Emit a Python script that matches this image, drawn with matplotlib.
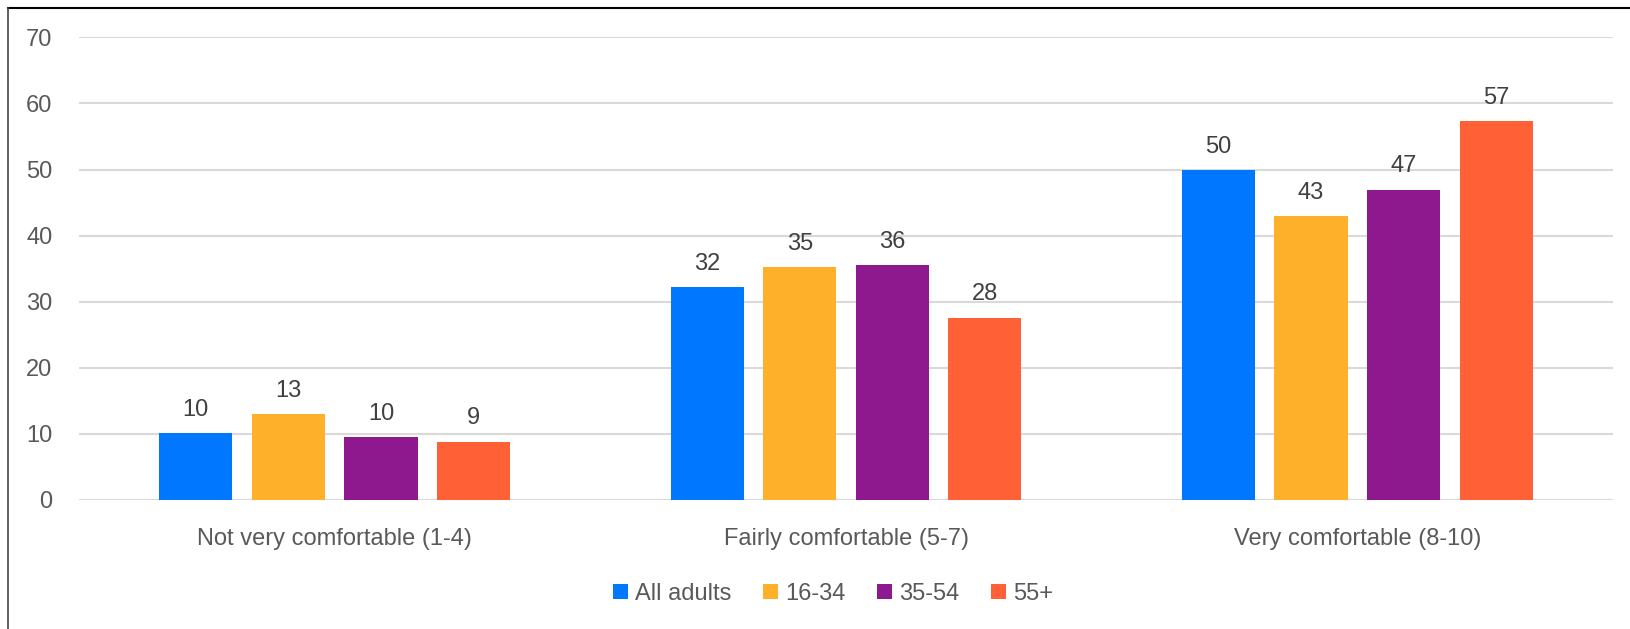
import matplotlib.pyplot as plt
import numpy as np
from matplotlib.lines import Line2D

plt.rcParams['font.family'] = ['Liberation Sans', 'DejaVu Sans']

categories = ['Not very comfortable (1-4)', 'Fairly comfortable (5-7)', 'Very comfortable (8-10)']
series = ['All adults', '16-34', '35-54', '55+']
all_adults = [10.1, 32.2, 49.9]
age_16_34 = [13.0, 35.2, 42.9]
age_35_54 = [9.5, 35.5, 46.9]
age_55_plus = [8.8, 27.6, 57.3]
colors = ['#0077ff', '#feb02b', '#8e198e', '#ff6036']

fig = plt.figure(figsize=(16.3, 6.29), dpi=100)
ax = fig.add_axes([79/1630, 1 - 500/629, (1613 - 79)/1630, (500 - 37.3)/629])

x = np.arange(len(categories))
pitch = 0.181
width = 0.143
for j, (vals, name) in enumerate(zip([all_adults, age_16_34, age_35_54, age_55_plus], series)):
    bars = ax.bar(x + (j - 1.5) * pitch, vals, width, color=colors[j], label=name, zorder=3)
    ax.bar_label(bars, labels=[f'{v:.0f}' for v in vals], padding=9,
                 fontsize=17, color='#404040')

ax.set_xlim(-0.5, 2.5)
ax.set_ylim(0, 70)
ax.set_yticks(range(0, 71, 10))
ax.set_xticks(x)
ax.set_xticklabels(categories)
ax.tick_params(axis='y', length=0, labelsize=17, colors='#595959', pad=19)
ax.tick_params(axis='x', length=0, labelsize=17, colors='#595959', pad=20.5)
ax.grid(axis='y', color='#d9d9d9', linewidth=1.5, zorder=0)
for s in ax.spines.values():
    s.set_visible(False)

ax.legend(loc='center', bbox_to_anchor=(833/1630, 1 - 594/629), bbox_transform=fig.transFigure,
          ncol=4, frameon=False, fontsize=17, handlelength=0.62, handleheight=0.62,
          handletextpad=0.3, columnspacing=1.35, borderpad=0, labelcolor='#595959')

# cropped chart frame (top and left edges only)
fig.add_artist(Line2D([8.3/1630, 1], [1 - 8.3/629, 1 - 8.3/629], transform=fig.transFigure, color='black', linewidth=1.5))
fig.add_artist(Line2D([8.3/1630, 8.3/1630], [0, 1 - 8.3/629], transform=fig.transFigure, color='#444444', linewidth=1.2))

fig.savefig('out.png', dpi=100)
